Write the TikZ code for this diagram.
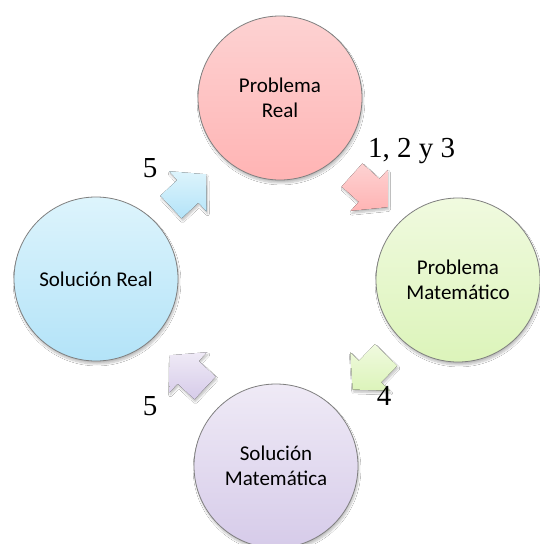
\documentclass[tikz,border=0pt]{standalone}
\usepackage{fontspec}
\setmainfont{Liberation Serif}
\newfontfamily\calib{Carlito}
\usetikzlibrary{shadows.blur}
\definecolor{pinkT}{HTML}{FDD2D2}
\definecolor{pinkB}{HTML}{FFB4B4}
\definecolor{greenT}{HTML}{F0FADF}
\definecolor{greenB}{HTML}{DCF4BA}
\definecolor{blueT}{HTML}{DDF4FC}
\definecolor{blueB}{HTML}{B3E3F8}
\definecolor{purpT}{HTML}{EFEAF6}
\definecolor{purpB}{HTML}{D6CBE9}
\definecolor{rimgray}{HTML}{7F7F7F}
\tikzset{
  bubble/.style={circle, draw=rimgray, line width=0.8pt, minimum size=164pt,
    inner sep=0pt, align=center, font=\calib\fontsize{21}{25}\selectfont,
    blur shadow={shadow blur steps=8, shadow xshift=1pt, shadow yshift=-3pt, shadow opacity=25}},
  numlabel/.style={font=\fontsize{29}{32}\selectfont, inner sep=0pt},
  pics/cycarrow/.style 2 args={code={
    \fill[top color=#1, bottom color=#2,
      blur shadow={shadow blur steps=6, shadow xshift=1pt, shadow yshift=-2.5pt, shadow opacity=25}]
      (0,15.5)--(23,15.5)--(23,27.5)--(48,0)--(23,-27.5)--(23,-15.5)--(0,-15.5)--cycle;}}
}
\begin{document}
\begin{tikzpicture}[x=1pt,y=1pt]
\useasboundingbox (0,0) rectangle (540,-544);
\fill[white] (0,0) rectangle (540,-544);
% circles
\node[bubble, top color=pinkT, bottom color=pinkB] (pr) at (280,-98) {Problema\\Real};
\node[bubble, top color=greenT, bottom color=greenB] (pm) at (458,-280) {Problema\\Matemático};
\node[bubble, top color=purpT, bottom color=purpB] (sm) at (276,-466) {Solución\\Matemática};
\node[bubble, top color=blueT, bottom color=blueB] (sr) at (96,-279) {Solución Real};
% cycle arrows
\pic[shift={(352,-175)}, rotate=-42] {cycarrow={pinkT}{pinkB}};
\pic[shift={(386,-355)}, rotate=-134] {cycarrow={greenT}{greenB}};
\pic[shift={(205,-388)}, rotate=137] {cycarrow={purpT}{purpB}};
\pic[shift={(171,-207)}, rotate=43] {cycarrow={blueT}{blueB}};
% labels
\node[numlabel, anchor=base west] (l123) at (368,-157) {1, 2 y 3};
\node[numlabel, anchor=base] (l4) at (384,-405) {4};
\node[numlabel, anchor=base] (l5a) at (150,-177) {5};
\node[numlabel, anchor=base] (l5b) at (150,-415) {5};
\end{tikzpicture}
\end{document}
